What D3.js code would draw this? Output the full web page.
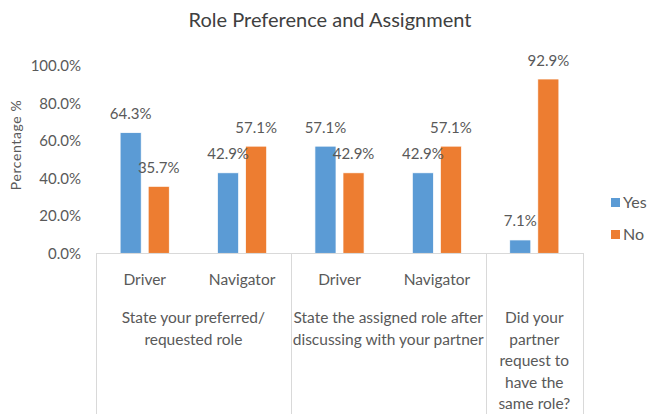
<!DOCTYPE html>
<html>
<head>
  <meta charset="utf-8">
  <title>Role Preference and Assignment</title>
  <style>
    body { margin: 0; background: #fff; }
    text { font-family: Lato, "Open Sans", sans-serif; fill: #595959; }
    .grid-line { stroke: #d9d9d9; stroke-width: 1; shape-rendering: crispEdges; }
  </style>
</head>
<body>
  <div id="chart"></div>

  <script src="https://cdn.jsdelivr.net/npm/d3@7/dist/d3.min.js"></script>
  <script>
    // data
    const roles = ['Driver', 'Navigator', 'Driver', 'Navigator', ''];
    const yesValues = [0.643, 0.429, 0.571, 0.429, 0.071];
    const noValues = [0.357, 0.571, 0.429, 0.571, 0.929];
    const seriesNames = ['Yes', 'No'];
    const groupLabels = [
      ['State your preferred/', 'requested role'],
      ['State the assigned role after', 'discussing with your partner'],
      ['Did your', 'partner', 'request to', 'have the', 'same role?']
    ];
    const groupSpans = [2, 2, 1];   // how many categories each group covers
    const yTicks = [0, 0.2, 0.4, 0.6, 0.8, 1.0];
    const colors = ['#5b9bd5', '#ed7d31'];

    const width = 650, height = 414;
    const plot = { left: 96, right: 583, top: 65.7, bottom: 253.3 };

    const svg = d3.select('#chart')
      .append('svg')
      .attr('width', width)
      .attr('height', height);

    // title
    svg.append('text')
      .attr('x', 330)
      .attr('y', 27)
      .attr('text-anchor', 'middle')
      .style('font-size', '20px')
      .style('fill', '#404040')
      .text('Role Preference and Assignment');

    //x scale
    let x = d3.scaleBand()
      .domain(d3.range(roles.length))
      .range([plot.left, plot.right]);

    let x1 = d3.scaleBand()
      .domain(seriesNames)
      .range([0, x.bandwidth()])
      .paddingInner(0.25)
      .paddingOuter(0.86);

    //y scale
    let y = d3.scaleLinear()
      .domain([0, 1])
      .range([plot.bottom, plot.top]);

    // y axis labels only, no line
    let yAxis = svg.append('g')
      .attr('transform', `translate(${plot.left - 15}, 0)`)
      .call(d3.axisLeft(y).tickValues(yTicks).tickFormat(d3.format('.1%')).tickSize(0).tickPadding(0));
    yAxis.select('.domain').remove();
    yAxis.selectAll('text')
      .style('font-size', '15px')
      .style('font-family', 'Lato, sans-serif')
      .attr('fill', '#595959');

    svg.append('text')
      .attr('transform', 'translate(21, 145) rotate(-90)')
      .attr('text-anchor', 'middle')
      .style('font-size', '14px')
      .style('letter-spacing', '0.6px')
      .text('Percentage %');

    // bars
    const rows = roles.map((r, i) => ({ i, values: [yesValues[i], noValues[i]] }));

    let groups = svg.selectAll('.cat')
      .data(rows)
      .join('g')
      .attr('class', 'cat')
      .attr('transform', d => `translate(${x(d.i)}, 0)`);

    groups.selectAll('rect')
      .data(d => d.values.map((v, k) => ({ key: seriesNames[k], v, k })))
      .join('rect')
      .attr('x', d => x1(d.key))
      .attr('y', d => y(d.v))
      .attr('width', x1.bandwidth())
      .attr('height', d => y(0) - y(d.v))
      .attr('fill', d => colors[d.k])
      .attr('stroke', '#fff')
      .attr('stroke-width', 0.7);

    groups.selectAll('.lbl')
      .data(d => d.values.map((v, k) => ({ key: seriesNames[k], v })))
      .join('text')
      .attr('class', 'lbl')
      .attr('x', d => x1(d.key) + x1.bandwidth() / 2)
      .attr('y', d => y(d.v) - 13.5)
      .attr('text-anchor', 'middle')
      .style('font-size', '15px')
      .text(d => d3.format('.1%')(d.v));

    // category axis box
    svg.append('line')
      .attr('class', 'grid-line')
      .attr('x1', plot.left).attr('x2', plot.right)
      .attr('y1', plot.bottom + 0.5).attr('y2', plot.bottom + 0.5);

    let start = 0;
    const edges = [0];
    groupSpans.forEach(s => { start += s; edges.push(start); });
    const edgeX = i => i < roles.length ? x(i) : plot.right;

    svg.selectAll('.vline')
      .data(edges)
      .join('line')
      .attr('class', 'grid-line vline')
      .attr('x1', d => Math.round(edgeX(d)) + 0.5)
      .attr('x2', d => Math.round(edgeX(d)) + 0.5)
      .attr('y1', plot.bottom)
      .attr('y2', height);

    // role labels
    svg.selectAll('.role')
      .data(roles)
      .join('text')
      .attr('class', 'role')
      .attr('x', (d, i) => x(i) + x.bandwidth() / 2)
      .attr('y', 285)
      .attr('text-anchor', 'middle')
      .style('font-size', '15.5px')
      .text(d => d);

    // group labels
    groupLabels.forEach((lines, g) => {
      let cx = (edgeX(edges[g]) + edgeX(edges[g + 1])) / 2;
      let t = svg.append('text')
        .attr('text-anchor', 'middle')
        .style('font-size', '15.5px');
      lines.forEach((ln, j) => {
        t.append('tspan')
          .attr('x', cx)
          .attr('y', 323 + j * 21.5)
          .text(ln);
      });
    });

    // legend
    let legend = svg.append('g')
      .attr('transform', 'translate(611, 198)');
    seriesNames.forEach((name, k) => {
      legend.append('rect')
        .attr('x', 0)
        .attr('y', k * 32)
        .attr('width', 9)
        .attr('height', 9)
        .attr('fill', colors[k]);
      legend.append('text')
        .attr('x', 12)
        .attr('y', k * 32 + 10)
        .style('font-size', '16px')
        .text(name);
    });
  </script>
</body>
</html>
